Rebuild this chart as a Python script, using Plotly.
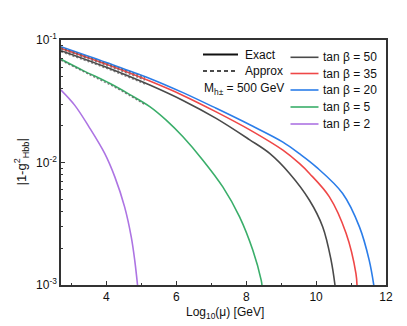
import plotly.graph_objects as go

# |1-g^2| against log10(mu)
x_tb50 = [2.70, 4.00, 5.24, 6.19, 7.14, 8.09, 8.67, 9.24, 9.81, 10.19, 10.43, 10.54]
y_tb50 = [0.0818, 0.0599, 0.0429, 0.0321, 0.0229, 0.01538, 0.01186, 0.00814, 0.00492, 0.00298, 0.00159, 0.00100]

x_tb35 = [2.70, 4.00, 5.24, 6.19, 7.14, 8.09, 9.05, 9.52, 9.81, 10.38, 10.86, 11.14, 11.17]
y_tb35 = [0.0855, 0.0633, 0.0462, 0.0353, 0.0259, 0.01855, 0.0126, 0.00982, 0.00814, 0.00524, 0.00263, 0.00124, 0.00100]

x_tb20 = [2.70, 4.00, 5.24, 6.19, 7.14, 8.09, 9.05, 9.52, 10.00, 10.76, 11.24, 11.52, 11.65]
y_tb20 = [0.0882, 0.0655, 0.0486, 0.0372, 0.0277, 0.0204, 0.01466, 0.01181, 0.00921, 0.00558, 0.00298, 0.00159, 0.00100]

x_tb5 = [2.70, 3.35, 4.09, 4.67, 5.24, 5.71, 6.19, 6.76, 7.33, 7.81, 8.19, 8.43, 8.45]
y_tb5 = [0.0696, 0.0560, 0.0443, 0.03585, 0.02861, 0.02219, 0.01621, 0.01045, 0.00632, 0.00360, 0.00192, 0.00109, 0.00100]

x_tb2 = [2.70, 3.09, 3.50, 3.95, 4.24, 4.52, 4.71, 4.81, 4.89]
y_tb2 = [0.0390, 0.0294, 0.01955, 0.01186, 0.00763, 0.00434, 0.00247, 0.00159, 0.00100]

# approximate curves (dashed), low-mu part, almost on top of the exact ones
x_apx = [2.70, 3.50, 4.30, 5.10]
y_apx50 = [0.0802, 0.0663, 0.0543, 0.0437]
y_apx35 = [0.0840, 0.0698, 0.0576, 0.0470]
y_apx20 = [0.0866, 0.0721, 0.0598, 0.0493]
y_apx5 = [0.0683, 0.0524, 0.0403, 0.0297]

labels = ["tan β = 50", "tan β = 35", "tan β = 20", "tan β = 5", "tan β = 2"]
colors = ["#4a4a4a", "#ef4747", "#2b7de9", "#3aae6a", "#ad74e3"]

xs = [x_tb50, x_tb35, x_tb20, x_tb5, x_tb2]
ys = [y_tb50, y_tb35, y_tb20, y_tb5, y_tb2]
apx = [y_apx50, y_apx35, y_apx20, y_apx5]

fig = go.Figure()

for i in range(len(xs)):
    fig.add_trace(go.Scatter(x=xs[i], y=ys[i], mode="lines",
                             line=dict(color=colors[i], width=1.6, shape="spline", smoothing=1.0),
                             showlegend=False))
for i in range(len(apx)):
    fig.add_trace(go.Scatter(x=x_apx, y=apx[i], mode="lines",
                             line=dict(color="#555555", width=1.3, dash="2px,2px", shape="spline"),
                             opacity=0.75, showlegend=False))

# hand made legend
L, R, T, B = 61, 386, 40, 285
def px(x):
    return (x - L) / (R - L)
def py(y):
    return (B - y) / (B - T)

fnt = dict(family="Liberation Sans, Arial", size=12, color="#111")
fig.add_shape(type="line", xref="paper", yref="paper", x0=px(203), x1=px(238), y0=py(54.5), y1=py(54.5),
              line=dict(color="#111", width=1.8))
fig.add_shape(type="line", xref="paper", yref="paper", x0=px(203), x1=px(238), y0=py(71), y1=py(71),
              line=dict(color="#111", width=1.5, dash="4px,3px"))
fig.add_annotation(xref="paper", yref="paper", x=px(243), y=py(54.5), text="Exact", showarrow=False,
                   xanchor="left", yanchor="middle", font=fnt)
fig.add_annotation(xref="paper", yref="paper", x=px(243), y=py(71), text="Approx", showarrow=False,
                   xanchor="left", yanchor="middle", font=fnt)
fig.add_annotation(xref="paper", yref="paper", x=px(202), y=py(89), text="M<sub>h±</sub> = 500 GeV",
                   showarrow=False, xanchor="left", yanchor="middle", font=fnt)
rows = [57.3, 73.5, 90, 107, 124]
for i in range(len(labels)):
    fig.add_shape(type="line", xref="paper", yref="paper", x0=px(290.5), x1=px(318.5), y0=py(rows[i]), y1=py(rows[i]),
                  line=dict(color=colors[i], width=1.6))
    fig.add_annotation(xref="paper", yref="paper", x=px(321), y=py(rows[i]), text=labels[i], showarrow=False,
                       xanchor="left", yanchor="middle", font=fnt)

# axis titles
fig.add_annotation(xref="paper", yref="paper", x=px(21), y=0.5, text="|1-g<sup>2</sup><sub>Hbb</sub>|",
                   textangle=-90, showarrow=False, xanchor="center", yanchor="middle",
                   font=dict(family="Liberation Sans, Arial", size=13, color="#111"))
fig.add_annotation(xref="paper", yref="paper", x=px(225), y=py(302.5), text="Log<sub>10</sub>(μ) [GeV]",
                   showarrow=False, xanchor="center", yanchor="top",
                   font=dict(family="Liberation Sans, Arial", size=12, color="#111"))

fig.update_layout(
    width=407, height=326,
    margin=dict(l=61, r=21, t=40, b=41),
    plot_bgcolor="white", paper_bgcolor="white",
    font=dict(family="Liberation Sans, Arial", size=12, color="#111"),
    xaxis=dict(range=[2.70, 12], tick0=0, dtick=2, ticks="inside", ticklen=4, tickwidth=1,
               tickcolor="#333", showline=True, linecolor="#333", linewidth=1.5, mirror=True,
               showgrid=False, zeroline=False,
               minor=dict(ticks="inside", ticklen=2.5, dtick=1, tick0=0, tickcolor="#333", showgrid=False)),
    yaxis=dict(type="log", range=[-3, -1], tickvals=[0.001, 0.01, 0.1],
               ticktext=["10<sup>-3</sup>", "10<sup>-2</sup>", "10<sup>-1</sup>"],
               ticks="inside", ticklen=4, tickwidth=1, tickcolor="#333",
               showline=True, linecolor="#333", linewidth=1.5, mirror=True,
               showgrid=False, zeroline=False,
               minor=dict(ticks="inside", ticklen=2.5, dtick="D1", tickcolor="#333", showgrid=False)),
)

fig.write_html("out.html", config={"displayModeBar": False},
               post_script="document.body.style.margin='0px';")
